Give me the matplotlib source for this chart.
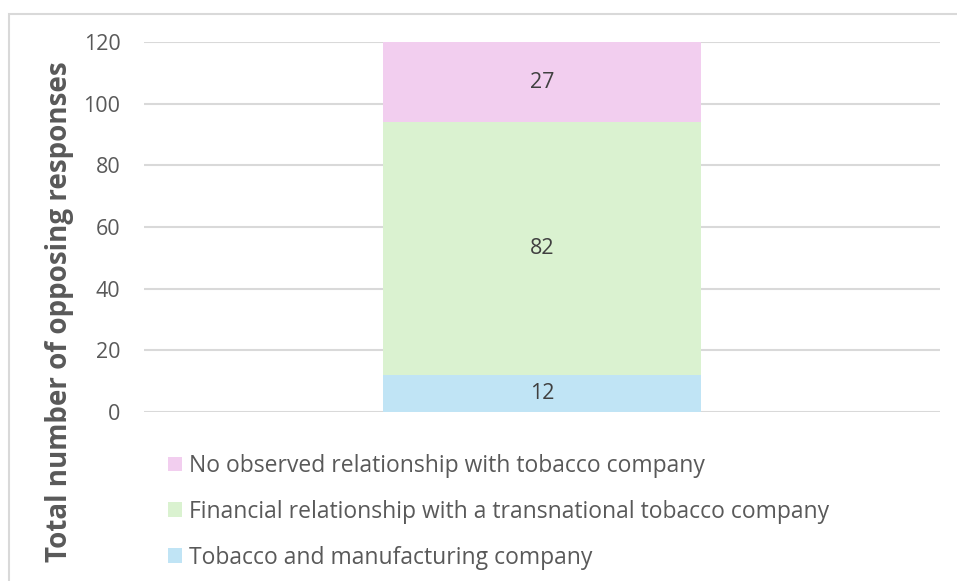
import matplotlib.pyplot as plt
from matplotlib.patches import Rectangle

# Opposing responses by relationship type (stacked, bottom to top)
categories = ["Tobacco and manufacturing company",
              "Financial relationship with a transnational tobacco company",
              "No observed relationship with tobacco company"]
values = [12, 82, 27]
colors = ["#C0E4F5", "#DAF2D0", "#F2CEEF"]
y_ticks = [0, 20, 40, 60, 80, 100, 120]

plt.rcParams['font.family'] = ['Open Sans', 'DejaVu Sans']

fig = plt.figure(figsize=(9.57, 5.81), dpi=100)
ax = fig.add_axes([144 / 957, 1 - 412 / 581, (940 - 144) / 957, (412 - 42) / 581])

bottom = 0
handles = []
for cat, val, col in zip(categories, values, colors):
    b = ax.bar(0, val, bottom=bottom, width=0.4, color=col, label=cat, zorder=2)
    # label sits in the middle of the visible part of the segment
    top = min(bottom + val, y_ticks[-1])
    ax.text(0, (bottom + top) / 2, str(val), ha='center', va='center',
            fontsize=15.5, color='#404040', zorder=3)
    handles.append(b)
    bottom += val

ax.set_xlim(-0.5, 0.5)
ax.set_ylim(0, y_ticks[-1])
ax.set_yticks(y_ticks)
ax.set_xticks([])
ax.tick_params(axis='y', length=0, pad=17, labelsize=15.5, labelcolor='#595959')
for s in ax.spines.values():
    s.set_visible(False)
ax.yaxis.grid(True, color='#D9D9D9', linewidth=1.5, zorder=0)
ax.set_axisbelow(True)

fig.text(60 / 957, 1 - 312 / 581, "Total number of opposing responses", rotation=90,
         ha='center', va='center', fontsize=20, fontweight='bold', color='#595959')

leg = fig.legend(handles[::-1], categories[::-1], loc='upper left',
                 bbox_to_anchor=(168 / 957, 1 - 454 / 581), frameon=False,
                 fontsize=16.5, labelcolor='#595959', handlelength=0.6,
                 handleheight=0.6, handletextpad=0.3, labelspacing=0.95,
                 borderaxespad=0, borderpad=0)

# chart area border, cropped on the right and bottom
fig.add_artist(Rectangle((8.5 / 957, -0.1), 1.2, 1.1 - 13.5 / 581,
                         transform=fig.transFigure, fill=False,
                         edgecolor='#D9D9D9', linewidth=1.5))

fig.savefig("out.png", dpi=100)
